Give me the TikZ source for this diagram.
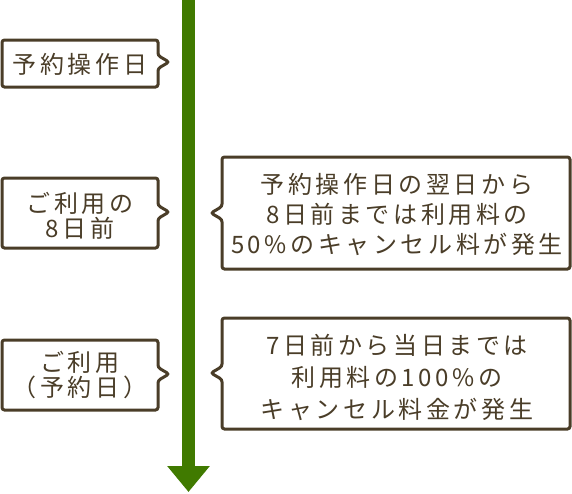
\documentclass[tikz,border=0pt]{standalone}
\usepackage{fontspec}
\newfontfamily\jp[LetterSpace=15]{Noto Sans CJK JP}
\usetikzlibrary{arrows.meta}
\definecolor{brn}{RGB}{74,61,40}
\definecolor{grn}{RGB}{64,122,0}
\tikzset{
  box/.style={draw=brn, line width=3pt, rounded corners=2.5pt, fill=white},
  txt/.style={text=brn, align=center, inner sep=0pt},
  lt/.style={txt, font=\jp\fontsize{24}{25}\selectfont},
  rt/.style={txt, font=\jp\fontsize{24}{30}\selectfont},
  rt2/.style={txt, font=\jp\fontsize{24}{32}\selectfont},
}
\begin{document}
\begin{tikzpicture}[x=1pt,y=-1pt]
\useasboundingbox (0,0) rectangle (572,493);
% timeline arrow
\coordinate (top) at (188.5,0);
\coordinate (bot) at (188.5,492);
\draw[grn, line width=13pt, -{Triangle[width=41pt,length=26pt]}] (top) -- (bot);
% left callouts
\draw[box] (2,40) -- (158,40) -- (158,55.5) -- (169,62) -- (158,68.5) -- (158,87) -- (2,87) -- cycle;
\node[lt] (a) at (80,64) {予約操作日};
\draw[box] (2,178) -- (158,178) -- (158,205.5) -- (169,212) -- (158,218.5) -- (158,248) -- (2,248) -- cycle;
\node[lt] (b) at (80,215.5) {ご利用の\\8日前};
\draw[box] (2,340) -- (158,340) -- (158,367.5) -- (169,374) -- (158,380.5) -- (158,410) -- (2,410) -- cycle;
\node[lt] (c) at (80,375) {ご利用\\（予約日）};
% right callouts
\draw[box] (222,157) -- (570,157) -- (570,269) -- (222,269) -- (222,219.5) -- (211,213) -- (222,206.5) -- cycle;
\node[rt] (d) at (397,214) {予約操作日の翌日から\\8日前までは利用料の\\50\%のキャンセル料が発生};
\draw[box] (222,318) -- (570,318) -- (570,429) -- (222,429) -- (222,379.5) -- (211,373) -- (222,366.5) -- cycle;
\node[rt2] (e) at (397,377) {7日前から当日までは\\利用料の100\%の\\キャンセル料金が発生};
\end{tikzpicture}
\end{document}
